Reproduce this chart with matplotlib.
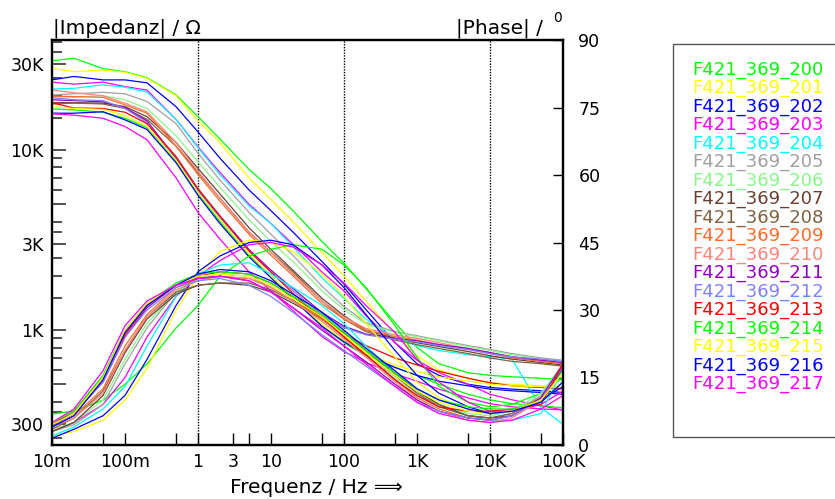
import matplotlib
matplotlib.use('Agg')
import matplotlib.pyplot as plt
from matplotlib.ticker import FixedLocator, FixedFormatter, NullFormatter
from matplotlib.patches import Rectangle

plt.rcParams['font.family'] = ['DejaVu Sans']

# ---------------- data ----------------
freq = [0.01, 0.02, 0.05, 0.1, 0.2, 0.5, 1, 2, 5, 10, 20, 50, 100, 200, 500,
        1e3, 2e3, 5e3, 1e4, 2e4, 5e4, 1e5]

names = ["F421_369_200", "F421_369_201", "F421_369_202", "F421_369_203",
         "F421_369_204", "F421_369_205", "F421_369_206", "F421_369_207",
         "F421_369_208", "F421_369_209", "F421_369_210", "F421_369_211",
         "F421_369_212", "F421_369_213", "F421_369_214", "F421_369_215",
         "F421_369_216", "F421_369_217"]

colors = ["#00ff00", "#ffff00", "#0000ff", "#ff00ff", "#00ffff", "#a0a0a0",
          "#88f888", "#6b3f2f", "#80603f", "#ff6a2a", "#ff8478", "#9400c8",
          "#8080ff", "#ff0000", "#00ff00", "#ffff00", "#0000ff", "#ff00ff"]

# |Impedanz| in Ohm
z200 = [31300, 32300, 28300, 27200, 25200, 20200, 15300, 11500, 7800, 6100, 4600, 3100, 2350, 1700, 1100, 800, 650, 580, 560, 550, 540, 530]
z201 = [28400, 27200, 27800, 27000, 25000, 20000, 14500, 11000, 7000, 5300, 4000, 2700, 2000, 1450, 950, 720, 600, 540, 510, 500, 490, 480]
z202 = [24500, 25600, 24500, 24500, 23600, 17400, 12600, 9000, 6000, 4600, 3500, 2400, 1800, 1300, 850, 650, 560, 500, 480, 470, 460, 450]
z203 = [23800, 23200, 23800, 22500, 21500, 14800, 10400, 7500, 5000, 3900, 3000, 2100, 1650, 1200, 850, 680, 580, 500, 440, 410, 380, 360]
z204 = [21800, 22000, 23000, 22300, 21000, 14800, 10300, 7300, 4900, 3900, 2900, 1950, 1500, 1150, 900, 820, 770, 730, 710, 690, 370, 300]
z205 = [20200, 20500, 20900, 20500, 18600, 14000, 9600, 6800, 4500, 3400, 2600, 1750, 1350, 1100, 980, 930, 880, 820, 780, 740, 700, 680]
z206 = [19800, 19600, 20000, 19000, 17000, 12000, 8600, 6200, 4100, 3100, 2400, 1650, 1300, 1080, 970, 920, 870, 810, 770, 730, 690, 670]
z207 = [18300, 18300, 18200, 17400, 15300, 11000, 7900, 5700, 3700, 2800, 2150, 1500, 1200, 1000, 900, 850, 810, 760, 720, 690, 660, 640]
z208 = [18000, 18200, 18000, 17000, 14800, 10500, 7500, 5400, 3500, 2700, 2100, 1450, 1150, 980, 880, 830, 790, 740, 700, 670, 650, 630]
z209 = [19900, 19800, 19600, 17800, 16000, 10500, 7300, 5200, 3400, 2600, 2000, 1400, 1150, 1000, 920, 880, 830, 780, 740, 700, 670, 650]
z210 = [21500, 20800, 20000, 18200, 16300, 11000, 7600, 5400, 3500, 2700, 2050, 1450, 1180, 1020, 940, 900, 850, 790, 750, 710, 680, 660]
z211 = [19000, 18800, 18500, 17200, 14500, 9000, 6000, 4300, 2800, 2150, 1700, 1250, 1050, 950, 900, 870, 830, 790, 750, 710, 680, 660]
z212 = [19500, 19000, 18800, 17000, 14200, 8800, 5900, 4200, 2750, 2100, 1650, 1220, 1030, 940, 890, 860, 820, 780, 740, 710, 690, 670]
z213 = [18300, 17100, 17000, 16200, 14000, 9200, 6100, 4300, 2750, 2100, 1600, 1150, 950, 820, 700, 640, 590, 540, 510, 490, 480, 470]
z214 = [16900, 16700, 16200, 15000, 13300, 8700, 5700, 4000, 2600, 2000, 1500, 1050, 850, 720, 620, 560, 500, 440, 410, 390, 380, 370]
z215 = [17400, 17000, 16800, 15500, 13500, 8800, 5800, 4100, 2650, 2000, 1500, 1080, 870, 740, 640, 590, 550, 520, 500, 490, 485, 480]
z216 = [16000, 16000, 16300, 14700, 13000, 8500, 5600, 3900, 2550, 1950, 1480, 1050, 860, 730, 620, 560, 520, 490, 470, 460, 450, 440]
z217 = [15900, 15600, 15000, 13500, 11400, 7000, 4500, 3200, 2100, 1650, 1280, 920, 760, 660, 570, 520, 470, 420, 390, 375, 365, 360]

# |Phase| in degree
p200 = [6.9, 7.5, 10, 13.5, 18, 26, 31, 37.5, 42, 43.5, 44.5, 43.5, 40, 35, 26.5, 19.5, 13, 9.5, 8.5, 9, 11.5, 15]
p201 = [2, 3, 5.5, 10, 17, 30, 37.5, 43, 45.5, 45, 43, 38, 33, 27, 19.5, 14, 10.5, 8, 7, 7.5, 10.5, 16]
p202 = [1.5, 3.5, 6.5, 11, 19, 31, 38.5, 42, 45, 45.5, 44.5, 40, 35, 29, 21, 15.5, 11.5, 8.5, 7, 7.5, 10, 13]
p203 = [3, 5, 9, 15, 24, 33, 37.5, 41, 44.5, 45, 44, 40, 36, 31, 25, 19, 14, 9.5, 7.5, 7.5, 9, 12]
p204 = [2, 4, 8, 13, 22, 33, 38, 40, 40.5, 38, 35, 31, 27, 22, 16, 12, 9, 6.5, 5.5, 5.5, 7, 17]
p205 = [3, 4.5, 9, 18, 26, 34, 37, 38, 37.5, 35, 32, 28, 24, 20, 14.5, 11, 8.5, 6.5, 6, 7, 11, 18]
p206 = [3.5, 5, 10, 19, 27, 34, 37, 38, 37.5, 35.5, 32.5, 28.5, 24.5, 20.5, 15, 11.5, 9, 7, 6.5, 7.5, 11.5, 18]
p207 = [3, 5, 11, 20.5, 28, 33.5, 35.5, 36, 35.5, 34, 31.5, 28, 25, 21, 16, 12, 9, 6.5, 6, 6.5, 10, 17]
p208 = [3.5, 6, 12, 21, 28.5, 34, 35.5, 36, 36, 34.5, 32, 28.5, 25, 21, 15.5, 11.5, 8.5, 6.5, 6, 7, 10.5, 17.5]
p209 = [4, 6.5, 12.5, 22, 29, 35, 37, 37.5, 37, 35, 32, 28, 24, 20, 14.5, 10.5, 8, 6, 5.5, 6.5, 10, 18]
p210 = [4, 6, 11.5, 21, 28.5, 34.5, 36.5, 37.5, 37, 35, 32, 27.5, 23.5, 19.5, 14, 10, 7.5, 5.5, 5, 6, 10, 18]
p211 = [4.5, 7, 14, 24, 30.5, 35.5, 37, 37.5, 36.5, 34, 30.5, 25.5, 22, 18.5, 13.5, 10, 7.5, 6, 5.5, 6.5, 10.5, 18]
p212 = [4, 7, 14, 24, 30, 35, 36.5, 37, 35.5, 33, 29.5, 24.5, 21, 17.5, 13, 9.5, 7.5, 6, 5.5, 6.5, 10, 17.5]
p213 = [4.5, 7.5, 15, 24.5, 31, 35.5, 37.5, 38.5, 38, 36, 33, 28.5, 24, 20, 14.5, 11, 8.5, 7.5, 7.5, 8, 9, 18]
p214 = [5, 7.5, 15.5, 25.5, 31.5, 36, 38, 38.5, 38, 36, 33, 29, 25, 21, 16, 12.5, 10, 8.5, 8, 8, 9.5, 14]
p215 = [4.5, 7, 15, 25.5, 31.5, 35.5, 37.5, 38, 37.5, 35.5, 32.5, 28.5, 24.5, 20.5, 15.5, 12, 9.5, 7.5, 7, 7.5, 10, 16]
p216 = [4, 6.5, 14.5, 25, 31, 35.5, 38, 39, 38.5, 36.5, 33.5, 29.5, 25.5, 21.5, 16.5, 12.5, 10, 8, 7, 7.5, 9.5, 14]
p217 = [5, 8, 16.5, 26.5, 32, 35.5, 37, 37.5, 36.5, 34, 30.5, 26, 22, 18, 13, 9.5, 7, 5.5, 5, 5.5, 8, 11]

impedance = [z200, z201, z202, z203, z204, z205, z206, z207, z208, z209,
             z210, z211, z212, z213, z214, z215, z216, z217]
phase = [p200, p201, p202, p203, p204, p205, p206, p207, p208, p209,
         p210, p211, p212, p213, p214, p215, p216, p217]

x_ticks = [0.01, 0.1, 1, 3, 10, 100, 1e3, 1e4, 1e5]
x_labels = ["10m", "100m", "1", "3", "10", "100", "1K", "10K", "100K"]
x_minor = [0.05, 0.5, 5, 50, 500, 5e3, 5e4]
y_ticks = [300, 500, 1e3, 3e3, 5e3, 1e4, 3e4]
y_labels = ["300", "", "1K", "3K", "", "10K", "30K"]
y_minor = [250, 350, 400, 600, 700, 800, 900, 1500, 2000, 2500, 3500, 4000,
           6000, 7000, 8000, 9000, 15000, 20000, 25000, 35000, 40000]
p_ticks = [0, 15, 30, 45, 60, 75, 90]
grid_freqs = [1, 100, 1e4]

# ---------------- figure ----------------
W, H = 835, 499
fig = plt.figure(figsize=(W / 100, H / 100), dpi=100)
ax = fig.add_axes([52 / W, 54 / H, 511 / W, 405 / H])
ax.set_xscale('log')
ax.set_yscale('log')
ax.set_xlim(0.01, 1e5)
ax.set_ylim(230, 40800)

ax2 = ax.twinx()
ax2.set_ylim(0, 90)

for z, c in zip(impedance, colors):
    ax.plot(freq, z, color=c, lw=0.9)
for p, c in zip(phase, colors):
    ax2.plot(freq, p, color=c, lw=0.9)

for g in grid_freqs:
    ax.axvline(g, color='black', lw=1.0, ls=(0, (1, 1)), zorder=0.5)

# x axis
ax.xaxis.set_major_locator(FixedLocator(x_ticks))
ax.xaxis.set_major_formatter(FixedFormatter(x_labels))
ax.xaxis.set_minor_locator(FixedLocator(x_minor))
ax.xaxis.set_minor_formatter(NullFormatter())
ax.tick_params(axis='x', which='both', direction='in', length=9, width=1,
               labelsize=12.5, pad=6)

# left y axis
ax.yaxis.set_major_locator(FixedLocator(y_ticks))
ax.yaxis.set_major_formatter(FixedFormatter(y_labels))
ax.yaxis.set_minor_locator(FixedLocator(y_minor))
ax.yaxis.set_minor_formatter(NullFormatter())
ax.tick_params(axis='y', which='major', direction='in', length=10, width=1.2,
               labelsize=12.5, pad=6, color='#333333')
ax.tick_params(axis='y', which='minor', direction='in', length=7, width=1.2,
               color='#333333')

# right y axis
ax2.yaxis.set_major_locator(FixedLocator(p_ticks))
ax2.yaxis.set_major_formatter(FixedFormatter([str(v) for v in p_ticks]))
ax2.tick_params(axis='y', which='major', direction='in', length=7.5, width=1,
                labelsize=12.5, pad=11)

for a in (ax, ax2):
    for s in a.spines.values():
        s.set_linewidth(1.6)
        s.set_color('black')
ax.spines['left'].set_color('#333333')

# titles and axis label
fig.text(53 / W, 1 - 33 / H, "|Impedanz| / \u03a9", fontsize=14.5,
         ha='left', va='baseline')
fig.text(543 / W, 1 - 33 / H, "|Phase| /", fontsize=14.5,
         ha='right', va='baseline')
fig.text(553 / W, 1 - 22 / H, "0", fontsize=10, ha='left', va='baseline')
fig.text(316 / W, 1 - 493 / H, "Frequenz / Hz \u27f9", fontsize=14.5,
         ha='center', va='baseline')

# legend box
fig.patches.append(Rectangle((673 / W, 1 - 437 / H), 0.3, (437 - 44) / H,
                             transform=fig.transFigure, facecolor='white',
                             edgecolor='#555555', lw=1.0))
for i, (n, c) in enumerate(zip(names, colors)):
    fig.text(692 / W, 1 - (70 + i * 18.47) / H, n, color=c, fontsize=13,
             ha='left', va='center')

fig.savefig('out.png', dpi=100)
